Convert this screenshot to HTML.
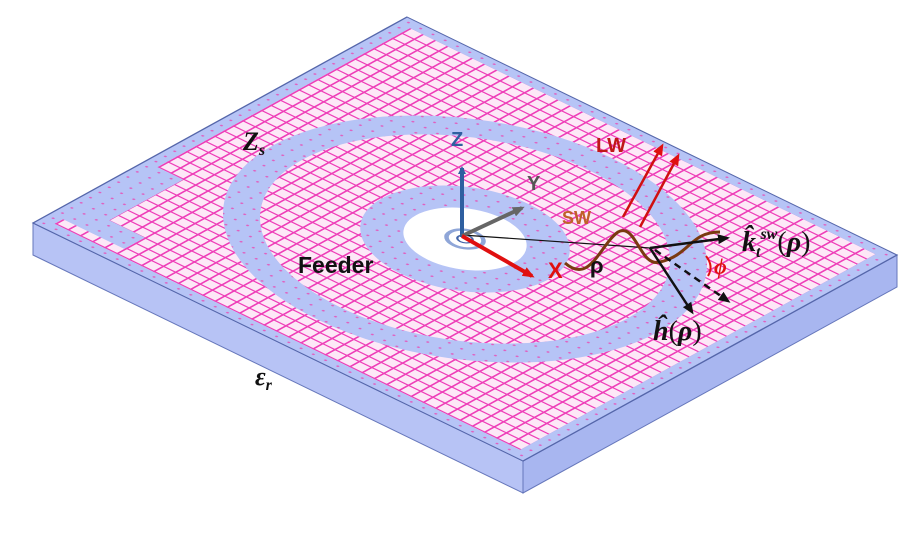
<!DOCTYPE html>
<html><head><style>body{margin:0;background:#fff}svg{display:block}</style></head><body>
<svg width="899" height="535" viewBox="0 0 899 535" xmlns="http://www.w3.org/2000/svg" font-family="Liberation Sans, sans-serif">
<defs>
<pattern id="g" width="1" height="1" patternUnits="userSpaceOnUse">
<rect width="1" height="1" fill="#fde8f7"/>
<path d="M0 0H1M0 0V1" stroke="#ee3fb8" stroke-width="0.28" fill="none"/>
</pattern>
<pattern id="d" width="1" height="1" patternUnits="userSpaceOnUse">
<rect width="1" height="1" fill="#b6c4f6"/>
<circle cx="0.5" cy="0.5" r="0.1" fill="#e060c0"/>
</pattern>
<marker id="ab" markerWidth="8" markerHeight="8" refX="6" refY="4" orient="auto" markerUnits="userSpaceOnUse"><path d="M0 0L8 4L0 8z" fill="#2e5fa0"/></marker>
<marker id="ag" markerWidth="12" markerHeight="10" refX="9" refY="5" orient="auto" markerUnits="userSpaceOnUse"><path d="M0 0L12 5L0 10z" fill="#666"/></marker>
<marker id="ar" markerWidth="12" markerHeight="10" refX="9" refY="5" orient="auto" markerUnits="userSpaceOnUse"><path d="M0 0L12 5L0 10z" fill="#e01010"/></marker>
<marker id="ak" markerWidth="12" markerHeight="10" refX="9" refY="5" orient="auto" markerUnits="userSpaceOnUse"><path d="M0 0L12 5L0 10z" fill="#111"/></marker>
</defs>
<polygon points="33,223 523,461 523,493 33,255" fill="#b7c3f5" stroke="#6677bb" stroke-width="1"/>
<polygon points="523,461 897,255 897,287 523,493" fill="#a8b6f0" stroke="#6677bb" stroke-width="1"/>
<g transform="matrix(9.35,-5.15,12.25,5.95,33,223)">
<rect width="40" height="40" fill="url(#g)"/>
<rect x="0.5" y="0.5" width="39" height="39" fill="none" stroke="url(#d)" stroke-width="1"/>
<path d="M3 6 L3 2 L12 2" fill="none" stroke="url(#d)" stroke-width="2.2"/>
<circle cx="20" cy="20" r="14.5" fill="none" stroke="url(#d)" stroke-width="2.4"/>
<circle cx="20" cy="20" r="6.8" fill="url(#d)"/>
<circle cx="20" cy="20" r="4" fill="#fff"/>
<circle cx="20" cy="20" r="1.2" fill="none" stroke="#8fa6d8" stroke-width="0.3"/>
<circle cx="20" cy="20" r="0.5" fill="none" stroke="#4466aa" stroke-width="0.15"/>
<rect width="40" height="40" fill="none" stroke="#5566aa" stroke-width="0.12"/>
</g>
<line x1="462" y1="235" x2="650" y2="248" stroke="#111" stroke-width="1.2"/>
<line x1="462" y1="237" x2="462" y2="168" stroke="#2e5fa0" stroke-width="4" marker-end="url(#ab)"/>
<line x1="462" y1="236" x2="522" y2="208" stroke="#666" stroke-width="4" marker-end="url(#ag)"/>
<line x1="462" y1="236" x2="532" y2="276" stroke="#e01010" stroke-width="4" marker-end="url(#ar)"/>
<path d="M565 263 C590 285 600 245 618 232 C636 222 640 268 660 262 C690 255 690 232 720 232" fill="none" stroke="#7a3a10" stroke-width="3"/>
<line x1="623" y1="217" x2="662" y2="146" stroke="#d01010" stroke-width="2.5" marker-end="url(#ar)"/>
<line x1="640" y1="227" x2="678" y2="156" stroke="#d01010" stroke-width="2.5" marker-end="url(#ar)"/>
<line x1="650" y1="248" x2="727" y2="238" stroke="#111" stroke-width="2.5" marker-end="url(#ak)"/>
<line x1="650" y1="248" x2="692" y2="312" stroke="#111" stroke-width="2.5" marker-end="url(#ak)"/>
<line x1="655" y1="250" x2="728" y2="301" stroke="#111" stroke-width="2.5" stroke-dasharray="7,5" marker-end="url(#ak)"/>
<path d="M706 256 Q714 266 708 276" fill="none" stroke="#e01010" stroke-width="2"/>
<text x="243" y="150" font-family="Liberation Serif, serif" font-style="italic" font-weight="bold" font-size="26" fill="#111">Z<tspan font-size="16" dy="5">s</tspan></text>
<text x="255" y="385" font-family="Liberation Serif, serif" font-style="italic" font-weight="bold" font-size="26" fill="#111">ε<tspan font-size="16" dy="5">r</tspan></text>
<text x="298" y="273" font-weight="bold" font-size="23" fill="#111">Feeder</text>
<text x="590" y="273" font-weight="bold" font-size="22" fill="#111">ρ</text>
<text x="562" y="224" font-weight="bold" font-size="18" fill="#c0602a">SW</text>
<text x="596" y="152" font-weight="bold" font-size="20" fill="#c01818">LW</text>
<text x="451" y="146" font-weight="bold" font-size="20" fill="#2e5fa0">Z</text>
<text x="527" y="190" font-weight="bold" font-size="20" fill="#555">Y</text>
<text x="548" y="278" font-weight="bold" font-size="22" fill="#e01010">X</text>
<text x="714" y="274" font-family="Liberation Serif, serif" font-style="italic" font-weight="bold" font-size="22" fill="#e01010">ϕ</text>
<text x="742" y="251" font-family="Liberation Serif, serif" font-style="italic" font-weight="bold" font-size="28" fill="#111">k̂<tspan font-size="16" dy="6">t</tspan><tspan font-size="16" dy="-18">sw</tspan><tspan dy="12" font-style="normal" font-weight="normal">(</tspan>ρ<tspan font-style="normal" font-weight="normal">)</tspan></text>
<text x="653" y="340" font-family="Liberation Serif, serif" font-style="italic" font-weight="bold" font-size="28" fill="#111">ĥ<tspan font-style="normal" font-weight="normal">(</tspan>ρ<tspan font-style="normal" font-weight="normal">)</tspan></text>
</svg>
</body></html>
